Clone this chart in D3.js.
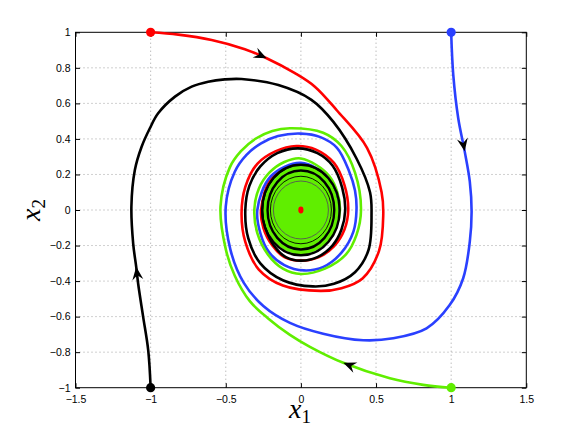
<!DOCTYPE html>
<html>
<head>
<meta charset="utf-8">
<script src="https://cdn.jsdelivr.net/npm/d3@7"></script>
<style>
body{margin:0;background:#fff;}
</style>
</head>
<body>
<svg id="chart" width="581" height="437"></svg>
<script>
// ticks
var xTicks = [-1.5, -1, -0.5, 0, 0.5, 1, 1.5];
var xTickLabels = ["\u22121.5", "\u22121", "\u22120.5", "0", "0.5", "1", "1.5"];
var yTicks = [-1, -0.8, -0.6, -0.4, -0.2, 0, 0.2, 0.4, 0.6, 0.8, 1];
var yTickLabels = ["\u22121", "\u22120.8", "\u22120.6", "\u22120.4", "\u22120.2", "0", "0.2", "0.4", "0.6", "0.8", "1"];

// trajectories (x1, x2)
var redPath = [[-1,1],[-0.816,0.987],[-0.594,0.957],[-0.373,0.905],[-0.228,0.854],[-0.04,0.77],[0.093,0.694],[0.24,0.56],
  [0.44,0.35],[0.537,0.10],[0.548,-0.03],[0.52,-0.23],[0.41,-0.385],[0.27,-0.44],[0.13,-0.455],[-0.12,-0.425],
  [-0.28,-0.335],[-0.37,-0.18],[-0.395,-0.02],[-0.37,0.13],[-0.29,0.26],[-0.17,0.33],[-0.03,0.36],[0.1,0.34],[0.22,0.265],
  [0.29,0.14],[0.315,0.0],[0.29,-0.11],[0.22,-0.205],[0.12,-0.265],[0.0,-0.285],[-0.11,-0.265],[-0.19,-0.2],[-0.25,-0.1],
  [-0.265,0.0],[-0.19,0.185],[0.0,0.255],[0.175,0.18],[0.245,0.0],[0.17,-0.17],[0.0,-0.24]];
var bluePath = [[1,1],[1.014,0.76],[1.047,0.516],[1.09,0.33],[1.124,0.16],[1.136,-0.01],[1.124,-0.178],[1.08,-0.384],
  [0.99,-0.535],[0.836,-0.666],[0.614,-0.722],[0.415,-0.733],[0.148,-0.696],[-0.073,-0.635],[-0.25,-0.54],[-0.38,-0.41],
  [-0.47,-0.22],[-0.50,0.02],[-0.44,0.215],[-0.362,0.31],[-0.265,0.375],[-0.152,0.416],[0.0,0.43],[0.13,0.41],[0.24,0.35],
  [0.32,0.22],[0.36,0.11],[0.37,0.0],[0.35,-0.12],[0.27,-0.24],[0.15,-0.32],[0.02,-0.34],[-0.11,-0.31],[-0.21,-0.24],
  [-0.27,-0.13],[-0.29,0.0],[-0.2,0.19],[0.0,0.265],[0.18,0.18],[0.25,0.0],[0.17,-0.17],[0.0,-0.245]];
var greenPath = [[1,-1],[0.814,-0.984],[0.592,-0.947],[0.282,-0.86],[0.06,-0.77],[-0.073,-0.703],[-0.22,-0.609],[-0.34,-0.513],
  [-0.44,-0.37],[-0.50,-0.22],[-0.535,0.02],[-0.473,0.24],[-0.399,0.331],[-0.3025,0.401],[-0.19,0.445],[-0.073,0.46],
  [0.148,0.435],[0.27,0.36],[0.36,0.21],[0.40,0.0],[0.37,-0.14],[0.30,-0.25],[0.16,-0.33],[0.0,-0.36],[-0.12,-0.33],
  [-0.22,-0.25],[-0.29,-0.13],[-0.31,0.0],[-0.28,0.12],[-0.21,0.21],[-0.11,0.27],[0.0,0.29],[0.19,0.19],[0.26,0.0],
  [0.18,-0.17],[0.0,-0.24]];
var blackPath = [[-1,-1],[-1.016,-0.79],[-1.05,-0.60],[-1.083,-0.415],[-1.096,-0.32],[-1.116,-0.19],[-1.128,0.02],
  [-1.105,0.225],[-1.06,0.356],[-1.005,0.46],[-0.95,0.544],[-0.838,0.638],[-0.727,0.694],[-0.617,0.722],[-0.506,0.735],
  [-0.395,0.737],[-0.15,0.703],[0.07,0.62],[0.215,0.497],[0.37,0.29],[0.46,0.10],[0.47,-0.02],[0.45,-0.225],[0.36,-0.35],
  [0.22,-0.415],[0.08,-0.43],[-0.12,-0.395],[-0.27,-0.3],[-0.35,-0.16],[-0.37,0.0],[-0.343,0.136],[-0.27,0.245],
  [-0.157,0.32],[-0.02,0.347],[0.11,0.32],[0.21,0.25],[0.275,0.125],[0.295,0.0],[0.27,-0.11],[0.21,-0.2],[0.11,-0.265],
  [0.0,-0.285],[-0.1,-0.265],[-0.18,-0.2],[-0.235,-0.1],[-0.255,0.0],[-0.18,0.18],[0.0,0.25],[0.17,0.175],[0.24,0.0],
  [0.165,-0.165],[0.0,-0.235]];
// index of the point where each arrow head sits
var arrowIdx = [4, 3, 3, 4];

// dense core of the spiral
var coreFill = [0.25, 0.25];          // half widths x1, x2
var coreRx = [0.258, 0.222, 0.203, 0.183];
var coreRy = [0.255, 0.222, 0.19, 0.163];
var equilibrium = [0, 0];

var traces = [
  {pts: redPath,   color: "#ff0000", arrow: arrowIdx[0]},
  {pts: bluePath,  color: "#2a40ff", arrow: arrowIdx[1]},
  {pts: greenPath, color: "#60ee00", arrow: arrowIdx[2]},
  {pts: blackPath, color: "#000000", arrow: arrowIdx[3]}
];

var sans = '"Liberation Sans",Arial,sans-serif';
var serif = '"Liberation Serif","Times New Roman",serif';

var svg = d3.select("#chart");
var x = d3.scaleLinear().domain([-1.5, 1.5]).range([75.5, 526.3]);
var y = d3.scaleLinear().domain([-1, 1]).range([387.7, 32.3]);

svg.append("rect").attr("width", 581).attr("height", 437).attr("fill", "#fff");

// dotted grid
var grid = svg.append("g").attr("stroke", "#8a8a8a").attr("stroke-width", 0.8).attr("stroke-dasharray", "1,3");
grid.selectAll(".gx").data(xTicks.slice(1, -1)).join("line")
  .attr("x1", function(d){ return x(d); }).attr("x2", function(d){ return x(d); })
  .attr("y1", y(-1)).attr("y2", y(1));
grid.selectAll(".gy").data(yTicks.slice(1, -1)).join("line")
  .attr("y1", function(d){ return y(d); }).attr("y2", function(d){ return y(d); })
  .attr("x1", x(-1.5)).attr("x2", x(1.5));

// axes, ticks inward on all sides
function styleAxis(g){
  g.attr("font-family", sans).attr("font-size", 10.5);
  g.selectAll("text").attr("fill", "#000");
  g.selectAll("line").attr("stroke", "#000");
  g.select(".domain").remove();
}
svg.append("g").attr("transform", "translate(0," + y(-1) + ")")
  .call(d3.axisBottom(x).tickValues(xTicks).tickFormat(function(d, i){ return xTickLabels[i]; })
    .tickSizeInner(-4.5).tickSizeOuter(0).tickPadding(8)).call(styleAxis);
svg.append("g").attr("transform", "translate(0," + y(1) + ")")
  .call(d3.axisTop(x).tickValues(xTicks).tickFormat("").tickSizeInner(-4.5).tickSizeOuter(0)).call(styleAxis);
svg.append("g").attr("transform", "translate(" + x(-1.5) + ",0)")
  .call(d3.axisLeft(y).tickValues(yTicks).tickFormat(function(d, i){ return yTickLabels[i]; })
    .tickSizeInner(-4.5).tickSizeOuter(0).tickPadding(5)).call(styleAxis);
svg.append("g").attr("transform", "translate(" + x(1.5) + ",0)")
  .call(d3.axisRight(y).tickValues(yTicks).tickFormat("").tickSizeInner(-4.5).tickSizeOuter(0)).call(styleAxis);

svg.append("rect").attr("x", x(-1.5)).attr("y", y(1))
  .attr("width", x(1.5) - x(-1.5)).attr("height", y(-1) - y(1))
  .attr("fill", "none").attr("stroke", "#000").attr("stroke-width", 1);

// trajectories
var line = d3.line().x(function(d){ return x(d[0]); }).y(function(d){ return y(d[1]); })
  .curve(d3.curveCatmullRom.alpha(0.5));
svg.append("g").selectAll("path").data(traces).join("path")
  .attr("d", function(d){ return line(d.pts); })
  .attr("fill", "none").attr("stroke", function(d){ return d.color; })
  .attr("stroke-width", 2.6).attr("stroke-linejoin", "round");

// filled core and its inner loops
svg.append("ellipse").attr("cx", x(equilibrium[0])).attr("cy", y(equilibrium[1]))
  .attr("rx", x(coreFill[0]) - x(0)).attr("ry", y(0) - y(coreFill[1])).attr("fill", "#60ee00");
svg.append("g").selectAll("ellipse").data(coreRx).join("ellipse")
  .attr("cx", x(equilibrium[0])).attr("cy", y(equilibrium[1]))
  .attr("rx", function(d){ return x(d) - x(0); })
  .attr("ry", function(d, i){ return y(0) - y(coreRy[i]); })
  .attr("fill", "none")
  .attr("stroke", function(d, i){ return i < 3 ? "#000" : "#555"; })
  .attr("stroke-width", function(d, i){ return i < 2 ? 2.4 : 0.9; });

svg.append("ellipse").attr("cx", x(equilibrium[0])).attr("cy", y(equilibrium[1]))
  .attr("rx", 2.6).attr("ry", 3.4).attr("fill", "#ff0000");

// arrow heads
svg.append("g").selectAll("path").data(traces).join("path")
  .attr("d", "M0,0L-13,-5.5L-8.5,0L-13,5.5Z")
  .attr("fill", "#000")
  .attr("transform", function(d){
    var p = d.pts[d.arrow], a = d.pts[d.arrow - 1], b = d.pts[d.arrow + 1];
    var ang = Math.atan2(y(b[1]) - y(a[1]), x(b[0]) - x(a[0])) * 180 / Math.PI;
    return "translate(" + x(p[0]) + "," + y(p[1]) + ") rotate(" + ang + ")";
  });

// start markers
svg.append("g").selectAll("circle").data(traces).join("circle")
  .attr("cx", function(d){ return x(d.pts[0][0]); }).attr("cy", function(d){ return y(d.pts[0][1]); })
  .attr("r", 4.6).attr("fill", function(d){ return d.color; });

// axis labels
var xl = svg.append("text").attr("x", 300).attr("y", 418).attr("text-anchor", "middle")
  .attr("font-family", serif).attr("font-size", 28);
xl.append("tspan").attr("font-style", "italic").text("x");
xl.append("tspan").attr("font-size", 19).attr("dy", 5).text("1");
var yl = svg.append("text").attr("transform", "translate(40,210) rotate(-90)").attr("text-anchor", "middle")
  .attr("font-family", serif).attr("font-size", 28);
yl.append("tspan").attr("font-style", "italic").text("x");
yl.append("tspan").attr("font-size", 19).attr("dy", 5).text("2");
</script>
</body>
</html>
